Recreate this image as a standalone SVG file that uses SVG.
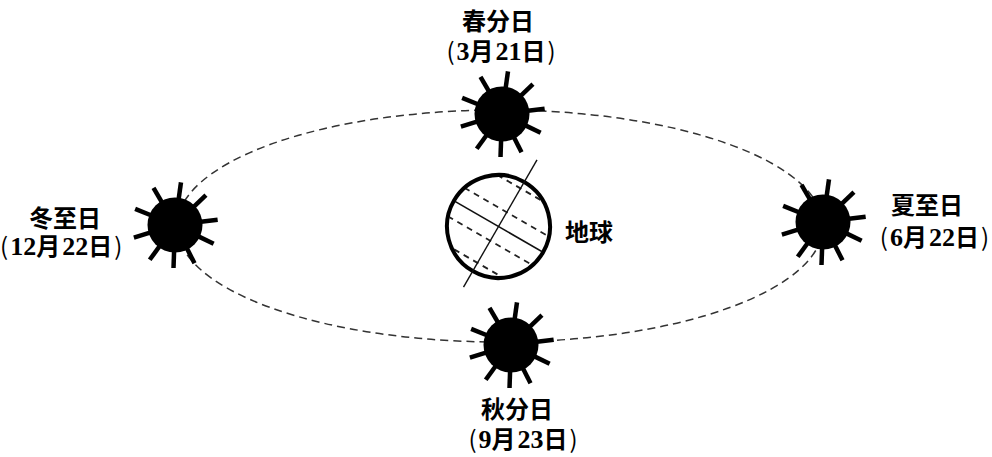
<svg xmlns="http://www.w3.org/2000/svg" width="992" height="457" viewBox="0 0 992 457">
  <style>
    .orbit { fill: none; stroke: #333; stroke-width: 1.5; stroke-dasharray: 8 5; }
    .ray { stroke: #000; stroke-width: 4.5; stroke-linecap: butt; }
    .lbl { font-family: "Liberation Serif", "Noto Sans CJK SC", serif; font-weight: bold; font-size: 24px; fill: #000; text-anchor: middle; }
    .date { letter-spacing: 2px; }
    .par { font-family: "Noto Sans CJK SC", sans-serif; font-weight: normal; }
    .num { font-size: 26px; letter-spacing: 0; }
    .lat { stroke: #222; stroke-width: 1.8; stroke-dasharray: 6 5; fill: none; }
  </style>
  <defs>
    <g id="sunShape">
      <circle r="27.5" fill="#000"/>
      <line class="ray" x1="0" y1="-22" x2="0" y2="-43" transform="rotate(8)"/>
      <line class="ray" x1="0" y1="-22" x2="0" y2="-43" transform="rotate(46)"/>
      <line class="ray" x1="0" y1="-22" x2="0" y2="-43" transform="rotate(83)"/>
      <line class="ray" x1="0" y1="-22" x2="0" y2="-43" transform="rotate(116)"/>
      <line class="ray" x1="0" y1="-22" x2="0" y2="-43" transform="rotate(153)"/>
      <line class="ray" x1="0" y1="-22" x2="0" y2="-43" transform="rotate(182)"/>
      <line class="ray" x1="0" y1="-22" x2="0" y2="-43" transform="rotate(216)"/>
      <line class="ray" x1="0" y1="-22" x2="0" y2="-43" transform="rotate(253)"/>
      <line class="ray" x1="0" y1="-22" x2="0" y2="-43" transform="rotate(292)"/>
      <line class="ray" x1="0" y1="-22" x2="0" y2="-43" transform="rotate(330)"/>
    </g>
    <clipPath id="globeClip">
      <circle r="50"/>
    </clipPath>
  </defs>

  <rect width="992" height="457" fill="#fff"/>

  <!-- orbit path -->
  <g id="connectors">
    <ellipse class="orbit" cx="500" cy="226" rx="323" ry="116"/>
  </g>

  <!-- Earth with tilted axis and latitude circles -->
  <g id="earth" transform="translate(498.5,226.5) rotate(30)">
    <circle r="51.5" fill="#fff" stroke="none"/>
    <g clip-path="url(#globeClip)">
      <line class="lat" x1="-60" y1="-44" x2="60" y2="-44"/>
      <line class="lat" x1="-60" y1="-16.5" x2="60" y2="-16.5"/>
      <line x1="-60" y1="0" x2="60" y2="0" stroke="#111" stroke-width="1.6"/>
      <line class="lat" x1="-60" y1="16.5" x2="60" y2="16.5"/>
      <line class="lat" x1="-60" y1="42" x2="60" y2="42"/>
    </g>
    <circle r="51.5" fill="none" stroke="#000" stroke-width="4"/>
    <line x1="0" y1="-77" x2="0" y2="70" stroke="#111" stroke-width="1.4"/>
  </g>
  <g id="earth-label">
    <text class="lbl" x="589" y="241" font-size="23">地球</text>
  </g>

  <!-- spring equinox -->
  <g id="sun-spring">
    <use href="#sunShape" x="502" y="114"/>
    <text class="lbl" x="498" y="30">春分日</text>
    <text class="lbl date" x="502" y="60"><tspan class="par">(</tspan><tspan class="num">3</tspan>月<tspan class="num">21</tspan>日<tspan class="par">)</tspan></text>
  </g>

  <!-- winter solstice -->
  <g id="sun-winter">
    <use href="#sunShape" x="175" y="225"/>
    <text class="lbl" x="65" y="227">冬至日</text>
    <text class="lbl date" x="0" y="255" style="text-anchor:start"><tspan class="par">(</tspan><tspan class="num">12</tspan>月<tspan class="num">22</tspan>日<tspan class="par">)</tspan></text>
  </g>

  <!-- summer solstice -->
  <g id="sun-summer">
    <use href="#sunShape" x="823" y="222"/>
    <text class="lbl" x="927" y="214">夏至日</text>
    <text class="lbl date" x="991" y="246" style="text-anchor:end"><tspan class="par">(</tspan><tspan class="num">6</tspan>月<tspan class="num">22</tspan>日<tspan class="par">)</tspan></text>
  </g>

  <!-- autumn equinox -->
  <g id="sun-autumn">
    <use href="#sunShape" x="511" y="345"/>
    <text class="lbl" x="517" y="418">秋分日</text>
    <text class="lbl date" x="524" y="448"><tspan class="par">(</tspan><tspan class="num">9</tspan>月<tspan class="num">23</tspan>日<tspan class="par">)</tspan></text>
  </g>
</svg>
